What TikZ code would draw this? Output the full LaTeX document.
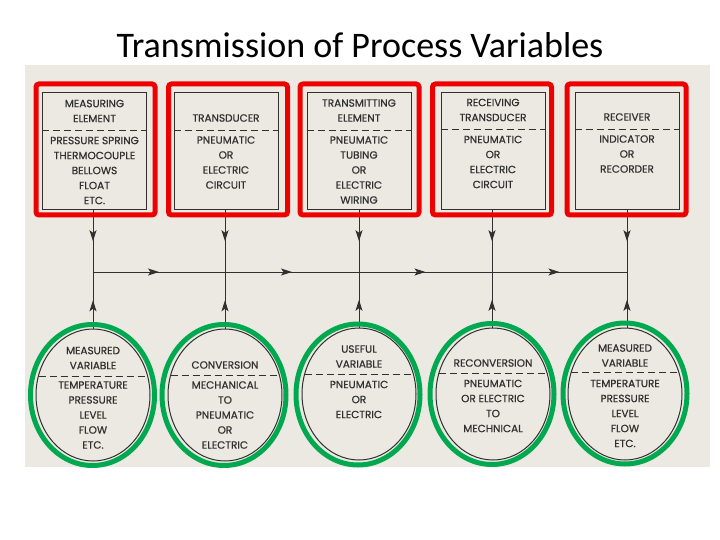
\documentclass[tikz,border=0pt]{standalone}
\usepackage{fontspec}
\setmainfont{Poppins}
\newfontfamily\titlefont{Carlito}
\newfontfamily\lblfont{Poppins}[FakeBold=0.6]
\usetikzlibrary{arrows.meta,decorations.markings,shapes.geometric,calc}
\definecolor{scanbg}{RGB}{236,233,226}
\definecolor{ink}{RGB}{48,48,48}
\definecolor{hired}{RGB}{236,0,0}
\definecolor{higreen}{RGB}{0,168,80}
\begin{document}
\begin{tikzpicture}[x=1pt,y=-1pt,
  midarrow/.style={postaction={decorate},decoration={markings,mark=at position 0.5 with {\arrow{Stealth[length=11pt,width=7pt,inset=2.5pt]}}}},
  wire/.style={draw=ink,line width=1pt},
  blackbox/.style={rectangle,draw=ink,line width=1pt,minimum width=104pt,minimum height=117pt,inner sep=0pt},
  redbox/.style={rectangle,draw=hired,line width=5pt,rounded corners=3pt,minimum width=119pt,minimum height=131pt,inner sep=0pt},
  blackell/.style={ellipse,draw=ink,line width=1pt,minimum width=114pt,minimum height=132pt,inner sep=0pt},
  greenell/.style={ellipse,draw=higreen,line width=5pt,minimum width=124pt,minimum height=141pt,inner sep=0pt},
  sep/.style={draw=ink,line width=1pt,dash pattern=on 7pt off 4pt},
  lbl/.style={font=\lblfont\fontsize{10.5}{15}\selectfont,text=ink,align=center,inner sep=0pt}
]
\useasboundingbox (0,0) rectangle (720,540);
\fill[white] (0,0) rectangle (720,540);
\fill[scanbg] (25,65) rectangle (710,467);

\node[font=\titlefont\fontsize{36}{40}\selectfont,text=black] (title) at (360,45) {Transmission of Process Variables};

% junctions
\coordinate (j1) at (93,272);
\coordinate (j2) at (225,272);
\coordinate (j3) at (359,272);
\coordinate (j4) at (492,272);
\coordinate (j5) at (627,272);

% boxes
\node[blackbox] (b1) at (94.5,151.5) {};
\node[blackbox] (b2) at (226,151.5) {};
\node[blackbox] (b3) at (359,151.5) {};
\node[blackbox] (b4) at (493,151.5) {};
\node[blackbox] (b5) at (627,151.5) {};

% circles
\node[blackell] (c1) at (93,395) {};
\node[blackell] (c2) at (225,395) {};
\node[blackell] (c3) at (359,394) {};
\node[blackell] (c4) at (493,394) {};
\node[blackell] (c5) at (625,394) {};

% connectors
\draw[wire,midarrow] (b1.south -| j1) -- (j1);
\draw[wire,midarrow] (b2.south -| j2) -- (j2);
\draw[wire,midarrow] (b3.south -| j3) -- (j3);
\draw[wire,midarrow] (b4.south -| j4) -- (j4);
\draw[wire,midarrow] (b5.south -| j5) -- (j5);
\draw[wire,midarrow] (c1.north -| j1) -- (j1);
\draw[wire,midarrow] (c2.north -| j2) -- (j2);
\draw[wire,midarrow] (c3.north -| j3) -- (j3);
\draw[wire,midarrow] (c4.north -| j4) -- (j4);
\draw[wire,midarrow] (c5.north -| j5) -- (j5);
\draw[wire,midarrow] (j1) -- (j2);
\draw[wire,midarrow] (j2) -- (j3);
\draw[wire,midarrow] (j3) -- (j4);
\draw[wire,midarrow] (j4) -- (j5);

% red highlight
\node[redbox] (r1) at (95.5,149.5) {};
\node[redbox] (r2) at (228,149.5) {};
\node[redbox] (r3) at (359.5,149.5) {};
\node[redbox] (r4) at (492,149.5) {};
\node[redbox] (r5) at (626.5,149.5) {};

% green highlight
\node[greenell] (g1) at (92.5,395) {};
\node[greenell] (g2) at (224,395) {};
\node[greenell] (g3) at (358,394.5) {};
\node[greenell] (g4) at (492,394) {};
\node[greenell] (g5) at (625,393.5) {};

% separators in boxes
\draw[sep] (b1.west |- 0,131) -- (b1.east |- 0,131);
\draw[sep] (b2.west |- 0,131) -- (b2.east |- 0,131);
\draw[sep] (b3.west |- 0,131) -- (b3.east |- 0,131);
\draw[sep] (b4.west |- 0,130) -- (b4.east |- 0,130);
\draw[sep] (b5.west |- 0,130) -- (b5.east |- 0,130);

% separators in circles
\draw[sep] ($(c1.center)+(-54.5,-19)$) -- ($(c1.center)+(54.5,-19)$);
\draw[sep] ($(c2.center)+(-54.3,-20)$) -- ($(c2.center)+(54.3,-20)$);
\draw[sep] ($(c3.center)+(-54.3,-20)$) -- ($(c3.center)+(54.3,-20)$);
\draw[sep] ($(c4.center)+(-54.0,-21)$) -- ($(c4.center)+(54.0,-21)$);
\draw[sep] ($(c5.center)+(-53.7,-22)$) -- ($(c5.center)+(53.7,-22)$);

% box texts
\node[lbl] (b1t) at (94.5,111) {MEASURING\\ELEMENT};
\node[lbl] (b1b) at (94.5,170.5) {PRESSURE SPRING\\THERMOCOUPLE\\BELLOWS\\FLOAT\\ETC.};
\node[lbl] (b2t) at (226,118) {TRANSDUCER};
\node[lbl] (b2b) at (226,162.5) {PNEUMATIC\\OR\\ELECTRIC\\CIRCUIT};
\node[lbl] (b3t) at (359,110.5) {TRANSMITTING\\ELEMENT};
\node[lbl] (b3b) at (359,170) {PNEUMATIC\\TUBING\\OR\\ELECTRIC\\WIRING};
\node[lbl] (b4t) at (493,110) {RECEIVING\\TRANSDUCER};
\node[lbl] (b4b) at (493,162) {PNEUMATIC\\OR\\ELECTRIC\\CIRCUIT};
\node[lbl] (b5t) at (627,117) {RECEIVER};
\node[lbl] (b5b) at (627,154) {INDICATOR\\OR\\RECORDER};

% circle texts
\node[lbl] (c1t) at (93,358) {MEASURED\\VARIABLE};
\node[lbl] (c1b) at (93,415) {TEMPERATURE\\PRESSURE\\LEVEL\\FLOW\\ETC.};
\node[lbl] (c2t) at (225,365) {CONVERSION};
\node[lbl] (c2b) at (225,415) {MECHANICAL\\TO\\PNEUMATIC\\OR\\ELECTRIC};
\node[lbl] (c3t) at (359,356.5) {USEFUL\\VARIABLE};
\node[lbl] (c3b) at (359,399.5) {PNEUMATIC\\OR\\ELECTRIC};
\node[lbl] (c4t) at (493,363) {RECONVERSION};
\node[lbl] (c4b) at (493,406) {PNEUMATIC\\OR ELECTRIC\\TO\\MECHNICAL};
\node[lbl] (c5t) at (625,355.5) {MEASURED\\VARIABLE};
\node[lbl] (c5b) at (625,413.5) {TEMPERATURE\\PRESSURE\\LEVEL\\FLOW\\ETC.};
\end{tikzpicture}
\end{document}
